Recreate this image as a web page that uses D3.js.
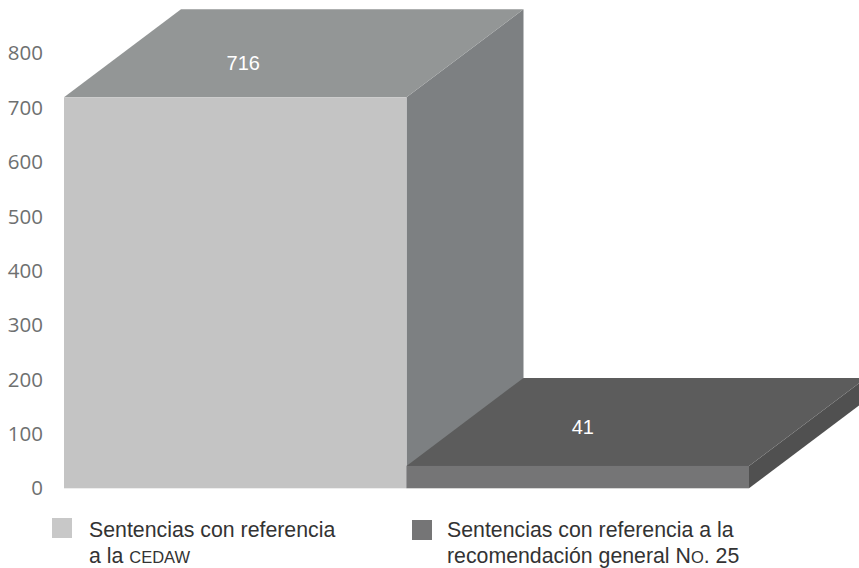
<!DOCTYPE html>
<html>
<head>
<meta charset="utf-8">
<script src="https://cdn.jsdelivr.net/npm/d3@7"></script>
<style>
    html, body { margin: 0; padding: 0; background: #fff; overflow: hidden; }
    svg { display: block; }
    .tick-label { font-family: "Open Sans", sans-serif; font-size: 20.5px; fill: #6e7070; }
    .value-label { font-family: "Liberation Sans", Arial, sans-serif; font-size: 20px; fill: #fff; }
    .legend-label { font-family: "Liberation Sans", Arial, sans-serif; font-size: 21.3px; fill: #333; }
    .small-cap { font-size: 16.5px; }
</style>
</head>
<body>
<div id="chart"></div>
<script>
const categories = ["Sentencias con referencia a la CEDAW", "Sentencias con referencia a la recomendación general No. 25"];
const values = [716, 41];
const yTicks = [0, 100, 200, 300, 400, 500, 600, 700, 800];
const frontColors = ["#c4c4c4", "#757576"];
const topColors = ["#939696", "#5c5c5c"];
const sideColors = ["#7d8082", "#505050"];
const swatchColors = ["#c8c8c8", "#757576"];
const legendLines = [
    [[{t: "Sentencias con referencia"}], [{t: "a la "}, {t: "CEDAW", small: true}]],
    [[{t: "Sentencias con referencia a la"}], [{t: "recomendación general N"}, {t: "O", small: true}, {t: ". 25"}]]
];

const width = 859, height = 568;
const depthX = 117, depthY = 88;

const svg = d3.select("#chart").append("svg")
    .attr("width", width)
    .attr("height", height);

const x = d3.scaleBand().domain(categories).range([64, 749]);
const y = d3.scaleLinear().domain([0, 800]).range([488.3, 51.4]);
// the printed tick labels sit a little off the bar scale in the original
const yLabel = d3.scaleLinear().domain([0, 800]).range([488, 53]);

svg.append("g").selectAll("text")
    .data(yTicks)
    .enter()
    .append("text")
    .attr("class", "tick-label")
    .attr("x", 43)
    .attr("y", d => yLabel(d))
    .attr("dy", "0.36em")
    .attr("text-anchor", "end")
    .text(d => d);

const bars = svg.append("g").selectAll("g")
    .data(categories)
    .enter()
    .append("g");

const polygon = pts => pts.map(p => p.join(",")).join(" ");

// right side
bars.append("polygon")
    .attr("fill", (d, i) => sideColors[i])
    .attr("points", (d, i) => {
        const r = x(d) + x.bandwidth(), t = y(values[i]), b = y(0);
        return polygon([[r, t], [r + depthX, t - depthY], [r + depthX, b - depthY], [r, b]]);
    });

// top
bars.append("polygon")
    .attr("fill", (d, i) => topColors[i])
    .attr("points", (d, i) => {
        const l = x(d), r = l + x.bandwidth(), t = y(values[i]);
        return polygon([[l, t], [r, t], [r + depthX, t - depthY], [l + depthX, t - depthY]]);
    });

// front
bars.append("rect")
    .attr("fill", (d, i) => frontColors[i])
    .attr("x", d => x(d))
    .attr("y", (d, i) => y(values[i]))
    .attr("width", x.bandwidth())
    .attr("height", (d, i) => y(0) - y(values[i]));

const labelOffsets = [[8, -34], [5, -39]];
bars.append("text")
    .attr("class", "value-label")
    .attr("x", (d, i) => x(d) + x.bandwidth() / 2 + labelOffsets[i][0])
    .attr("y", (d, i) => y(values[i]) + labelOffsets[i][1])
    .attr("dy", "0.36em")
    .attr("text-anchor", "middle")
    .text((d, i) => values[i]);

// legend
const legendX = [[52, 89], [412, 447]];
const legendY = [518, 520];
const legend = svg.append("g").selectAll("g")
    .data(categories)
    .enter()
    .append("g");

legend.append("rect")
    .attr("x", (d, i) => legendX[i][0])
    .attr("y", (d, i) => legendY[i])
    .attr("width", 20)
    .attr("height", 20)
    .attr("fill", (d, i) => swatchColors[i]);

legend.each(function (d, i) {
    legendLines[i].forEach((line, j) => {
        const text = d3.select(this).append("text")
            .attr("class", "legend-label")
            .attr("x", legendX[i][1])
            .attr("y", 537 + j * 26);
        line.forEach(part => {
            text.append("tspan")
                .attr("class", part.small ? "small-cap" : null)
                .text(part.t);
        });
    });
});
</script>
</body>
</html>
